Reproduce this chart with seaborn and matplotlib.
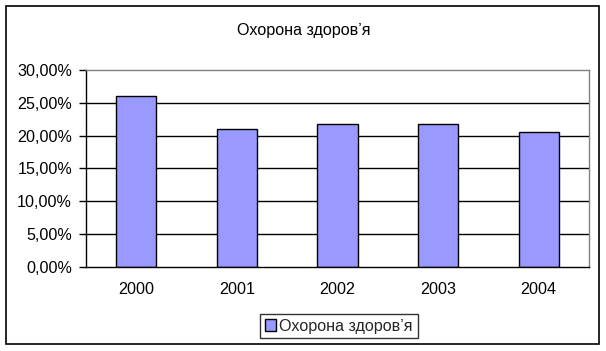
import matplotlib
matplotlib.use("Agg")
import matplotlib.pyplot as plt
import seaborn as sns
import pandas as pd
from matplotlib.ticker import FuncFormatter, FixedLocator
from matplotlib.patches import Rectangle, Patch

years = ["2000", "2001", "2002", "2003", "2004"]
values = [26.1, 21.0, 21.8, 21.7, 20.6]
series_name = "Охорона здоров’я"
title = "Охорона здоров’я"
yticks = [0, 5, 10, 15, 20, 25, 30]

sns.set_style("white")
plt.rcParams['font.family'] = ['Liberation Sans', 'DejaVu Sans']
FS = 11.6

W, H = 606, 351
fig = plt.figure(figsize=(W / 100, H / 100), dpi=100)
ax = fig.add_axes([86 / W, (H - 266.7) / H, (589 - 86) / W, (266.7 - 70) / H])

df = pd.DataFrame({"year": years, "value": values})
sns.barplot(data=df, x="year", y="value", color="#9999FF", saturation=1,
            width=0.4, edgecolor="black", linewidth=1, ax=ax)

ax.set_xlim(-0.5, len(years) - 0.5)
ax.set_ylim(0, 30)
ax.set_yticks(yticks)
ax.yaxis.set_major_formatter(FuncFormatter(lambda v, p: f"{v:.2f}".replace(".", ",") + "%"))
for y in yticks[1:-1]:
    ax.axhline(y, color="black", lw=1, zorder=0)

ax.set_xlabel("")
ax.set_ylabel("")
ax.tick_params(axis="x", which="major", length=0, pad=11, labelsize=FS, colors="black")
ax.xaxis.set_minor_locator(FixedLocator([i - 0.5 for i in range(len(years) + 1)]))
ax.tick_params(axis="x", which="minor", length=5, width=1, color="black", direction="out")
ax.tick_params(axis="y", length=5, width=1, color="black", direction="out", labelsize=FS,
               labelcolor="black", left=True, pad=5)

for s in ["left", "bottom"]:
    ax.spines[s].set_color("black")
    ax.spines[s].set_linewidth(1)
for s in ["top", "right"]:
    ax.spines[s].set_color("#808080")
    ax.spines[s].set_linewidth(1)

fig.text(304 / W, 1 - 31 / H, title, ha="center", va="center", fontsize=FS, color="black")

handle = Patch(facecolor="#9999FF", edgecolor="black", linewidth=1)
leg = fig.legend([handle], [series_name], loc="center", bbox_to_anchor=(338.7 / W, 1 - 326 / H),
                 frameon=True, fancybox=False, fontsize=FS, handlelength=0.7, handleheight=0.7,
                 handletextpad=0.2, borderpad=0.3, borderaxespad=0)
leg.get_frame().set_edgecolor("black")
leg.get_frame().set_linewidth(1)

border = Rectangle((5.5 / W, 1 - 344 / H), (599.3 - 5.5) / W, (344 - 5.5) / H,
                   transform=fig.transFigure, fill=False, edgecolor="black", lw=1.2)
fig.patches.append(border)

fig.savefig("out.png", dpi=100, facecolor="white")
